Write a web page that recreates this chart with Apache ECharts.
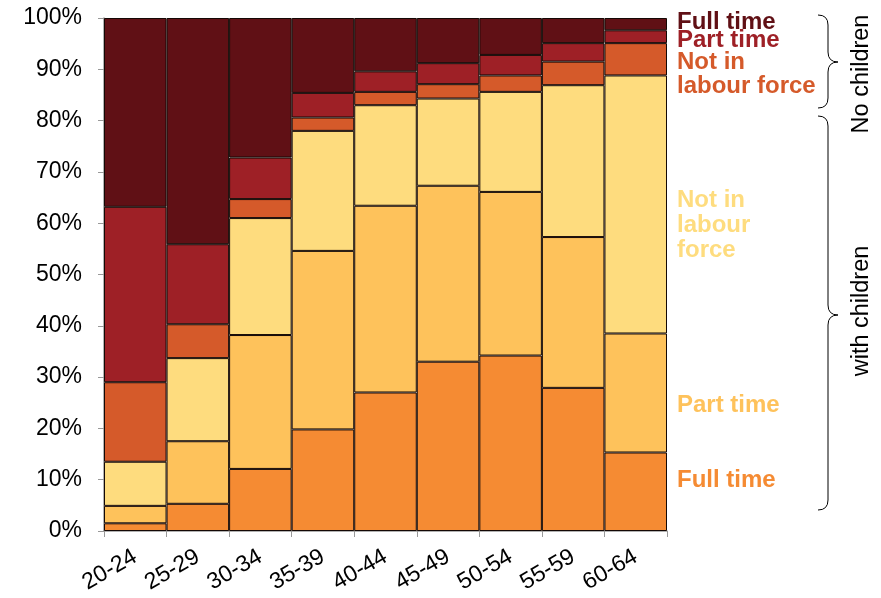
<!DOCTYPE html>
<html><head><meta charset="utf-8">
<script src="https://cdn.jsdelivr.net/npm/echarts@6/dist/echarts.min.js"></script>
<style>html,body{margin:0;padding:0;background:#fff}#c{width:881px;height:598px}</style>
</head><body><div id="c"></div>
<script>
var categories = ['20-24','25-29','30-34','35-39','40-44','45-49','50-54','55-59','60-64'];
var wcFull = [1.5, 5.3, 12.1, 19.8, 27.0, 33.0, 34.2, 27.9, 15.3];
var wcPart = [3.4, 12.2, 26.1, 34.8, 36.4, 34.3, 31.9, 29.4, 23.2];
var wcNilf = [8.6, 16.2, 22.8, 23.4, 19.6, 17.0, 19.5, 29.6, 50.3];
var ncNilf = [15.5, 6.6, 3.7, 2.6, 2.6, 2.8, 3.2, 4.6, 6.3];
var ncPart = [34.2, 15.6, 8.1, 4.8, 4.0, 4.1, 4.0, 3.6, 2.5];
var ncFull = [36.8, 44.1, 27.2, 14.6, 10.4, 8.8, 7.2, 4.9, 2.4];
var seriesNames = ['With children: Full time','With children: Part time','With children: Not in labour force','No children: Not in labour force','No children: Part time','No children: Full time'];
var colors = ['#F58B33','#FEC25B','#FEDC7E','#D55A2A','#9E2026','#601015'];

var font = '"Liberation Sans", Arial, sans-serif';
var chart = echarts.init(document.getElementById('c'));
var dataSets = [wcFull, wcPart, wcNilf, ncNilf, ncPart, ncFull];
var series = dataSets.map(function(d, i){
  return {
    name: seriesNames[i], type: 'bar', stack: 'all', data: d,
    barCategoryGap: 0, barGap: 0,
    itemStyle: {color: colors[i], borderColor: '#140805', borderWidth: 1},
    emphasis: {disabled: true}
  };
});
function lbl(text, x, y, color, lh){
  return {type:'text', x:x, y:y, style:{text:text, fill:color, font:'bold 24px ' + font, lineHeight:lh || 25}};
}
function brace(x0, y0, ym, y1){
  var xm = x0 + 10, xt = x0 + 20, st = {stroke:'#000', lineWidth:1, fill:null};
  return [
    {type:'bezierCurve', shape:{x1:x0, y1:y0, x2:xm, y2:y0+10, cpx1:xm, cpy1:y0}, style:st},
    {type:'line', shape:{x1:xm, y1:y0+10, x2:xm, y2:ym-10}, style:st},
    {type:'bezierCurve', shape:{x1:xm, y1:ym-10, x2:xt, y2:ym, cpx1:xm, cpy1:ym}, style:st},
    {type:'bezierCurve', shape:{x1:xt, y1:ym, x2:xm, y2:ym+10, cpx1:xm, cpy1:ym}, style:st},
    {type:'line', shape:{x1:xm, y1:ym+10, x2:xm, y2:y1-10}, style:st},
    {type:'bezierCurve', shape:{x1:xm, y1:y1-10, x2:x0, y2:y1, cpx1:xm, cpy1:y1}, style:st}
  ];
}
var graphics = [
  lbl('Full time', 677, 9.5, '#601015'),
  lbl('Part time', 677, 27.5, '#9E2026'),
  lbl('Not in\nlabour force', 677, 50, '#D55A2A', 24),
  lbl('Not in\nlabour\nforce', 677, 187.5, '#FEDC7E'),
  lbl('Part time', 677, 392.5, '#FEC25B'),
  lbl('Full time', 677, 467.5, '#F58B33'),
  {type:'text', x:862, y:74, rotation:Math.PI/2, style:{text:'No children', fill:'#000', font:'23.5px ' + font, align:'center', verticalAlign:'middle'}},
  {type:'text', x:862, y:311, rotation:Math.PI/2, style:{text:'with children', fill:'#000', font:'23.5px ' + font, align:'center', verticalAlign:'middle'}}
].concat(brace(818, 15, 62, 108), brace(818, 116, 315, 510));

chart.setOption({
  animation: false,
  grid: {left: 104, right: 214, top: 18, bottom: 67},
  xAxis: {
    type: 'category', data: categories,
    axisLine: {lineStyle: {color: '#999', width: 1.5}},
    axisTick: {show: true, length: 6, lineStyle: {color: '#999'}},
    axisLabel: {rotate: 30, fontSize: 23, color: '#000', fontFamily: font, margin: 24}
  },
  yAxis: {
    type: 'value', min: 0, max: 100, interval: 10,
    splitLine: {show: false},
    axisLine: {show: true, lineStyle: {color: '#999', width: 1.5}},
    axisTick: {show: true, length: 6, lineStyle: {color: '#999'}},
    axisLabel: {formatter: '{value}%', fontSize: 23, color: '#000', fontFamily: font, margin: 22}
  },
  series: series,
  graphic: graphics
});
</script></body></html>
